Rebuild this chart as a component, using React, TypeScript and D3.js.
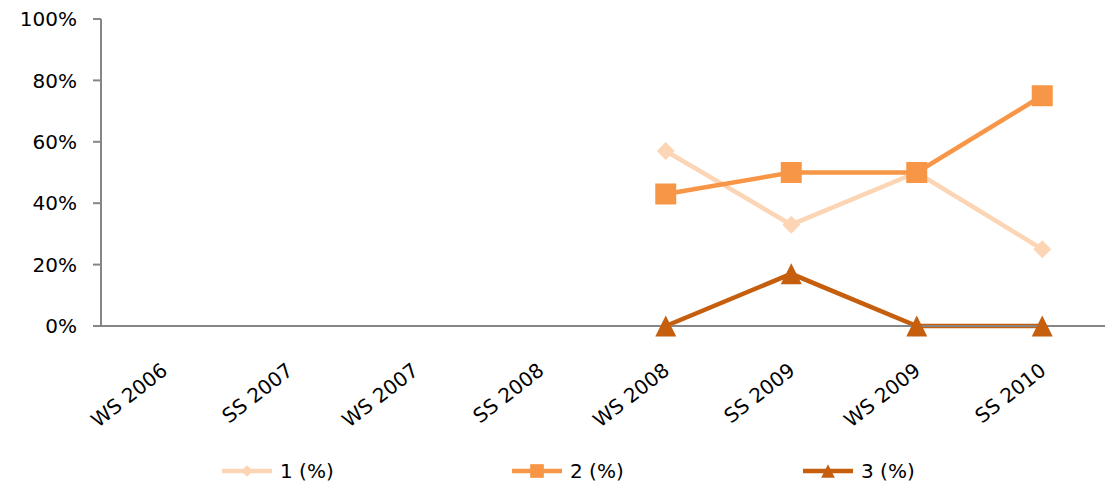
import React from "react";
import * as d3 from "d3";

const categories = ["WS 2006", "SS 2007", "WS 2007", "SS 2008", "WS 2008", "SS 2009", "WS 2009", "SS 2010"];
const series1: (number | null)[] = [null, null, null, null, 57, 33, 50, 25];
const series2: (number | null)[] = [null, null, null, null, 43, 50, 50, 75];
const series3: (number | null)[] = [null, null, null, null, 0, 17, 0, 0];
const seriesNames = ["1 (%)", "2 (%)", "3 (%)"];
const yTicks = [0, 20, 40, 60, 80, 100];

const colors = ["#FCD5B4", "#F79646", "#C55F0E"];
const markers = ["diamond", "square", "triangle"];

const W = 1106, H = 488;
const left = 101, right = 1105, top = 19, bottom = 326;

function Marker({ type, x, y, color, scale = 1 }: { type: string; x: number; y: number; color: string; scale?: number }) {
  if (type === "diamond") {
    const s = 9 * scale;
    return <path d={`M${x},${y - s}L${x + s},${y}L${x},${y + s}L${x - s},${y}Z`} fill={color} />;
  }
  if (type === "square") {
    const s = 10.5 * scale;
    return <rect x={x - s} y={y - s} width={2 * s} height={2 * s} fill={color} />;
  }
  const s = 10.5 * scale;
  return <path d={`M${x},${y - s}L${x + s},${y + s}L${x - s},${y + s}Z`} fill={color} />;
}

export default function App() {
  const x = d3.scaleBand<string>().domain(categories).range([left, right]);
  const y = d3.scaleLinear().domain([0, 100]).range([bottom, top]);
  const cx = (c: string) => (x(c) as number) + x.bandwidth() / 2;
  const allSeries = [series1, series2, series3];
  const line = d3
    .line<[string, number | null]>()
    .defined((d) => d[1] !== null)
    .x((d) => cx(d[0]))
    .y((d) => y(d[1] as number));
  const legendX = [222, 512, 803];
  const font = "DejaVu Sans, Verdana, sans-serif";

  return (
    <svg width={W} height={H} style={{ position: "absolute", left: 0, top: 0 }}>
      <rect width={W} height={H} fill="#fff" />
      <line x1={left} x2={left} y1={top} y2={bottom} stroke="#868686" strokeWidth={2} />
      {yTicks.map((t) => (
        <g key={t}>
          <line x1={left - 8} x2={left} y1={y(t)} y2={y(t)} stroke="#868686" strokeWidth={2} />
          <text x={77} y={y(t)} dy="0.36em" textAnchor="end" fontFamily={font} fontSize={20} fill="#000">
            {t}%
          </text>
        </g>
      ))}
      {categories.map((c) => (
        <text
          key={c}
          transform={`translate(${cx(c) + 5},${373}) rotate(-38)`}
          textAnchor="end"
          fontFamily={font}
          fontSize={20}
          fill="#000"
        >
          {c}
        </text>
      ))}
      {allSeries.map((s, i) => (
        <path
          key={i}
          d={line(categories.map((c, j) => [c, s[j]] as [string, number | null])) || ""}
          fill="none"
          stroke={colors[i]}
          strokeWidth={4.5}
        />
      ))}
      <line x1={left} x2={right} y1={bottom} y2={bottom} stroke="#868686" strokeWidth={2} />
      {allSeries.map((s, i) => (
        <g key={"m" + i}>
          {categories.map((c, j) =>
            s[j] === null ? null : <Marker key={c} type={markers[i]} x={cx(c)} y={y(s[j] as number)} color={colors[i]} />
          )}
        </g>
      ))}
      {seriesNames.map((n, i) => (
        <g key={n}>
          <line x1={legendX[i]} x2={legendX[i] + 50} y1={471} y2={471} stroke={colors[i]} strokeWidth={4.5} />
          <Marker type={markers[i]} x={legendX[i] + 25} y={471} color={colors[i]} scale={0.65} />
          <text x={legendX[i] + 58} y={471} dy="0.36em" fontFamily={font} fontSize={20} fill="#000">
            {n}
          </text>
        </g>
      ))}
    </svg>
  );
}
